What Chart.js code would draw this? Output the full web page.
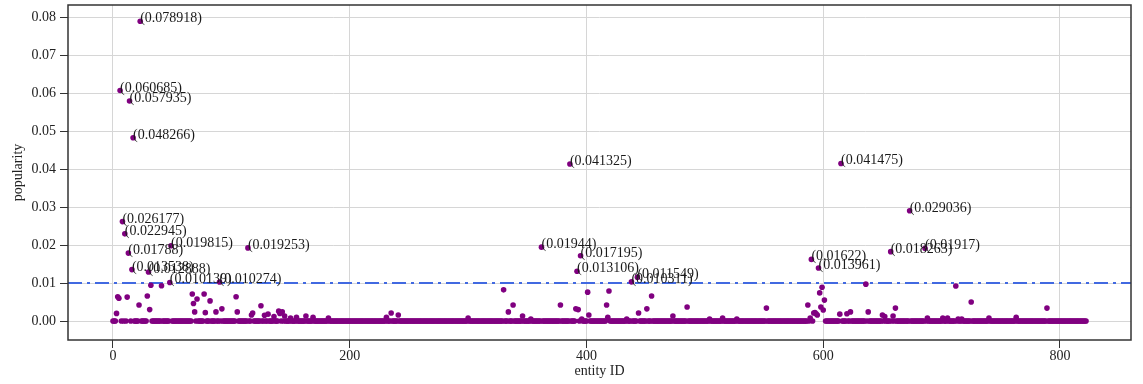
<!DOCTYPE html>
<html>
<head>
<meta charset="utf-8">
<script src="https://cdn.jsdelivr.net/npm/chart.js@4/dist/chart.umd.min.js"></script>
<style>
  body { margin: 0; background: #fff; }
  #wrap { width: 1143px; height: 384px; }
</style>
</head>
<body>
<div id="wrap"><canvas id="chart"></canvas></div>
<script>
// entity IDs run 0..822; IDs not listed here sit at ~0 popularity
var entityCount = 823;
var entityIds = [3, 4, 5, 6, 8, 10, 12, 13, 14, 16, 17, 22, 23, 29, 30, 31, 32, 41, 48, 49,
    67, 68, 69, 71, 77, 78, 82, 87, 90, 92, 104, 105, 114, 117, 118, 125, 128, 131, 136, 140,
    141, 143, 145, 150, 155, 163, 169, 182, 231, 235, 241, 300, 330, 334, 338, 346, 353, 362, 378, 386,
    391, 392, 393, 395, 396, 401, 402, 417, 418, 419, 434, 438, 443, 444, 451, 455, 473, 485, 504, 515,
    527, 552, 587, 589, 590, 592, 593, 594, 595, 596, 597, 598, 599, 600, 601, 614, 615, 620, 623, 636,
    638, 650, 652, 657, 659, 661, 673, 686, 688, 701, 705, 712, 714, 717, 725, 740, 763, 789];
var popularity = [0.002, 0.0064, 0.006, 0.060685, 0.026177, 0.022945, 0.0063, 0.01788, 0.057935, 0.013538, 0.048266, 0.0042, 0.078918, 0.0066, 0.012888, 0.003, 0.0094, 0.0093, 0.010139, 0.019815,
    0.0071, 0.0046, 0.0024, 0.0058, 0.0071, 0.0022, 0.0053, 0.0024, 0.010274, 0.0032, 0.0064, 0.0024, 0.019253, 0.0016, 0.0021, 0.004, 0.0015, 0.0018, 0.0012, 0.0026,
    0.002, 0.0024, 0.0013, 0.0008, 0.001, 0.0013, 0.001, 0.0008, 0.001, 0.0021, 0.0016, 0.0008, 0.0082, 0.0024, 0.0042, 0.0013, 0.0005, 0.01944, 0.0042, 0.041325,
    0.0032, 0.013106, 0.003, 0.017195, 0.0005, 0.0076, 0.0016, 0.0042, 0.001, 0.0079, 0.0005, 0.010311, 0.011549, 0.0021, 0.0032, 0.0066, 0.0013, 0.0037, 0.0005, 0.0008,
    0.0005, 0.0034, 0.0042, 0.0008, 0.01622, 0.0021, 0.0022, 0.0019, 0.0016, 0.013961, 0.0074, 0.0037, 0.0089, 0.0029, 0.0055, 0.0018, 0.041475, 0.0019, 0.0024, 0.0097,
    0.0024, 0.0016, 0.0012, 0.018263, 0.0013, 0.0034, 0.029036, 0.01917, 0.0008, 0.0008, 0.0008, 0.0092, 0.0005, 0.0005, 0.005, 0.0008, 0.001, 0.0034];
var threshold = 0.01;
var xTicks = [0, 200, 400, 600, 800];
var yTicks = [0, 0.01, 0.02, 0.03, 0.04, 0.05, 0.06, 0.07, 0.08];

var points = [];
for (var id = 0; id < entityCount; id++) {
    var k = entityIds.indexOf(id);
    points.push({ x: id, y: k >= 0 ? popularity[k] : 0 });
}

var serif = '"Liberation Serif", "Times New Roman", serif';

// "(value)" next to every point above the threshold
var valueLabels = {
    id: 'valueLabels',
    afterDatasetsDraw: function (chart) {
        var ctx = chart.ctx;
        var meta = chart.getDatasetMeta(0);
        ctx.save();
        ctx.font = '14px ' + serif;
        ctx.fillStyle = '#1a1a1a';
        ctx.textAlign = 'left';
        ctx.textBaseline = 'alphabetic';
        meta.data.forEach(function (pt, i) {
            var v = points[i].y;
            if (v > threshold) ctx.fillText('(' + v + ')', pt.x, pt.y + 1);
        });
        // box around plot
        var a = chart.chartArea;
        ctx.strokeStyle = '#333';
        ctx.lineWidth = 1.5;
        ctx.strokeRect(a.left, a.top, a.right - a.left, a.bottom - a.top);
        ctx.restore();
    }
};

new Chart(document.getElementById('chart'), {
    type: 'scatter',
    data: {
        datasets: [{
            data: points,
            backgroundColor: '#800080',
            borderColor: '#800080',
            pointRadius: 2.8,
            borderWidth: 0,
            order: 1
        }, {
            type: 'line',
            data: [{ x: -38, y: threshold }, { x: 860, y: threshold }],
            borderColor: '#4169E1',
            borderWidth: 2,
            borderDash: [14, 5, 3, 5],
            pointRadius: 0,
            order: 2
        }]
    },
    options: {
        responsive: true,
        maintainAspectRatio: false,
        animation: false,
        layout: { padding: { top: 5, right: 12, left: 0, bottom: 0 } },
        plugins: { legend: { display: false }, tooltip: { enabled: false } },
        scales: {
            x: {
                type: 'linear',
                min: -38,
                max: 860,
                afterBuildTicks: function (s) { s.ticks = xTicks.map(v => ({ value: v })); },
                afterFit: function (s) { s.height = 44; s.paddingLeft = 0; s.paddingRight = 0; },
                grid: { color: '#d6d6d6', tickColor: '#333', tickLength: 8 },
                border: { display: false },
                ticks: { font: { family: serif, size: 14 }, color: '#222', padding: 0, maxRotation: 0 },
                title: { display: true, text: 'entity ID', font: { family: serif, size: 14 }, color: '#222', padding: { top: 0, bottom: 4 } }
            },
            y: {
                min: -0.005,
                max: 0.0832,
                afterBuildTicks: function (s) { s.ticks = yTicks.map(v => ({ value: v })); },
                afterFit: function (s) { s.width = 68; s.paddingTop = 0; s.paddingBottom = 0; },
                grid: { color: '#d6d6d6', tickColor: '#333', tickLength: 8 },
                border: { display: false },
                ticks: { font: { family: serif, size: 14 }, color: '#222', padding: 4, callback: v => v.toFixed(2) },
                title: { display: true, text: 'popularity', font: { family: serif, size: 14 }, color: '#222', padding: { top: 10, bottom: 0 } }
            }
        }
    },
    plugins: [valueLabels]
});
</script>
</body>
</html>
